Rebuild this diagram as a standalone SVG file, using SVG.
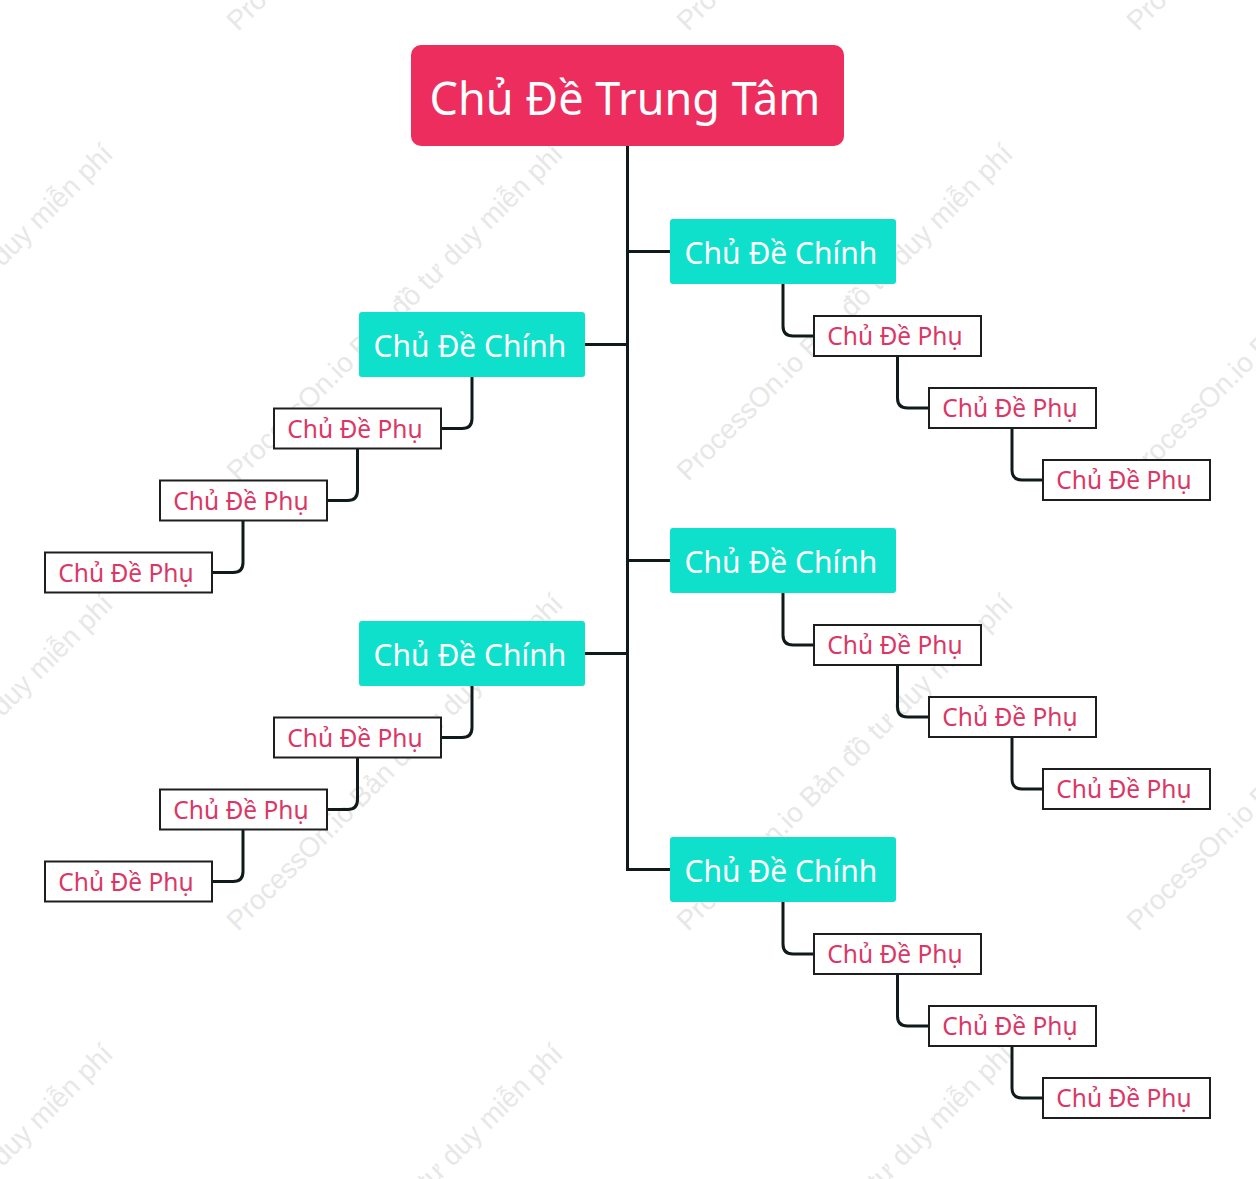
<svg xmlns="http://www.w3.org/2000/svg" width="1256" height="1179" viewBox="0 0 1256 1179">
<style>
.wm{font-family:"Liberation Sans",Arial,sans-serif;font-size:27.7px;fill:#e7e7e7}
.root{fill:#ec2d5e}
.main{fill:#0fe0cc}
.sub{fill:#ffffff;stroke:#1e1e1e;stroke-width:2}
.tRoot{font-family:"Noto Sans","Open Sans",sans-serif;font-size:45px;fill:#ffffff;text-anchor:middle}
.tMain{font-family:"Noto Sans","Open Sans",sans-serif;font-size:30px;fill:#ffffff;text-anchor:middle}
.tSub{font-family:"Noto Sans","Open Sans",sans-serif;font-size:24.5px;fill:#db3766;text-anchor:middle}
.ln{fill:none;stroke:#111a1a;stroke-width:3}
</style>
<rect width="1256" height="1179" fill="#ffffff"/>
<defs>
<text id="wmt" class="wm" x="0" y="0" transform="rotate(-45)">ProcessOn.io Bản đồ tư duy miễn phí</text>
</defs>
<g id="watermark">
<use href="#wmt" transform="translate(-212,32)"/>
<use href="#wmt" transform="translate(238,32)"/>
<use href="#wmt" transform="translate(688,32)"/>
<use href="#wmt" transform="translate(1138,32)"/>
<use href="#wmt" transform="translate(-212,482)"/>
<use href="#wmt" transform="translate(238,482)"/>
<use href="#wmt" transform="translate(688,482)"/>
<use href="#wmt" transform="translate(1138,482)"/>
<use href="#wmt" transform="translate(-212,932)"/>
<use href="#wmt" transform="translate(238,932)"/>
<use href="#wmt" transform="translate(688,932)"/>
<use href="#wmt" transform="translate(1138,932)"/>
<use href="#wmt" transform="translate(-212,1382)"/>
<use href="#wmt" transform="translate(238,1382)"/>
<use href="#wmt" transform="translate(688,1382)"/>
<use href="#wmt" transform="translate(1138,1382)"/>
</g>
<g id="connectors">
<path class="ln" d="M627.5,146 V869.5 H670"/>
<path class="ln" d="M627.5,251.5 H670"/>
<path class="ln" d="M627.5,560.5 H670"/>
<path class="ln" d="M585,344.5 H627.5"/>
<path class="ln" d="M585,653.5 H627.5"/>
<path class="ln" d="M783,284 V326 Q783,336 793,336 H814"/>
<path class="ln" d="M897.5,356 V398 Q897.5,408 907.5,408 H929"/>
<path class="ln" d="M1012,428 V470 Q1012,480 1022,480 H1043"/>
<path class="ln" d="M783,593 V635 Q783,645 793,645 H814"/>
<path class="ln" d="M897.5,665 V707 Q897.5,717 907.5,717 H929"/>
<path class="ln" d="M1012,737 V779 Q1012,789 1022,789 H1043"/>
<path class="ln" d="M783,902 V944 Q783,954 793,954 H814"/>
<path class="ln" d="M897.5,974 V1016 Q897.5,1026 907.5,1026 H929"/>
<path class="ln" d="M1012,1046 V1088 Q1012,1098 1022,1098 H1043"/>
<path class="ln" d="M472,377 V418.5 Q472,428.5 462,428.5 H441"/>
<path class="ln" d="M357.5,448.5 V490.5 Q357.5,500.5 347.5,500.5 H327"/>
<path class="ln" d="M243,520.5 V562.5 Q243,572.5 233,572.5 H212"/>
<path class="ln" d="M472,686 V727.5 Q472,737.5 462,737.5 H441"/>
<path class="ln" d="M357.5,757.5 V799.5 Q357.5,809.5 347.5,809.5 H327"/>
<path class="ln" d="M243,829.5 V871.5 Q243,881.5 233,881.5 H212"/>
</g>
<g id="root">
<rect class="root" x="411" y="45" width="433" height="101" rx="10"/>
<text class="tRoot" x="625" y="115">Chủ Đề Trung Tâm</text>
</g>
<g id="main-r1"><rect class="main" x="670" y="219" width="226" height="65" rx="3"/><text class="tMain" x="781" y="264">Chủ Đề Chính</text></g>
<g id="main-r2"><rect class="main" x="670" y="528" width="226" height="65" rx="3"/><text class="tMain" x="781" y="573">Chủ Đề Chính</text></g>
<g id="main-r3"><rect class="main" x="670" y="837" width="226" height="65" rx="3"/><text class="tMain" x="781" y="882">Chủ Đề Chính</text></g>
<g id="main-l1"><rect class="main" x="359" y="312" width="226" height="65" rx="3"/><text class="tMain" x="470" y="357">Chủ Đề Chính</text></g>
<g id="main-l2"><rect class="main" x="359" y="621" width="226" height="65" rx="3"/><text class="tMain" x="470" y="666">Chủ Đề Chính</text></g>

<g id="sub-r1a"><rect class="sub" x="814" y="316" width="167" height="40"/><text class="tSub" x="895" y="345">Chủ Đề Phụ</text></g>
<g id="sub-r1b"><rect class="sub" x="929" y="388" width="167" height="40"/><text class="tSub" x="1010" y="417">Chủ Đề Phụ</text></g>
<g id="sub-r1c"><rect class="sub" x="1043" y="460" width="167" height="40"/><text class="tSub" x="1124" y="489">Chủ Đề Phụ</text></g>
<g id="sub-r2a"><rect class="sub" x="814" y="625" width="167" height="40"/><text class="tSub" x="895" y="654">Chủ Đề Phụ</text></g>
<g id="sub-r2b"><rect class="sub" x="929" y="697" width="167" height="40"/><text class="tSub" x="1010" y="726">Chủ Đề Phụ</text></g>
<g id="sub-r2c"><rect class="sub" x="1043" y="769" width="167" height="40"/><text class="tSub" x="1124" y="798">Chủ Đề Phụ</text></g>
<g id="sub-r3a"><rect class="sub" x="814" y="934" width="167" height="40"/><text class="tSub" x="895" y="963">Chủ Đề Phụ</text></g>
<g id="sub-r3b"><rect class="sub" x="929" y="1006" width="167" height="40"/><text class="tSub" x="1010" y="1035">Chủ Đề Phụ</text></g>
<g id="sub-r3c"><rect class="sub" x="1043" y="1078" width="167" height="40"/><text class="tSub" x="1124" y="1107">Chủ Đề Phụ</text></g>

<g id="sub-l1a"><rect class="sub" x="274" y="408.5" width="167" height="40"/><text class="tSub" x="355" y="437.5">Chủ Đề Phụ</text></g>
<g id="sub-l1b"><rect class="sub" x="160" y="480.5" width="167" height="40"/><text class="tSub" x="241" y="509.5">Chủ Đề Phụ</text></g>
<g id="sub-l1c"><rect class="sub" x="45" y="552.5" width="167" height="40"/><text class="tSub" x="126" y="581.5">Chủ Đề Phụ</text></g>
<g id="sub-l2a"><rect class="sub" x="274" y="717.5" width="167" height="40"/><text class="tSub" x="355" y="746.5">Chủ Đề Phụ</text></g>
<g id="sub-l2b"><rect class="sub" x="160" y="789.5" width="167" height="40"/><text class="tSub" x="241" y="818.5">Chủ Đề Phụ</text></g>
<g id="sub-l2c"><rect class="sub" x="45" y="861.5" width="167" height="40"/><text class="tSub" x="126" y="890.5">Chủ Đề Phụ</text></g>
</svg>
